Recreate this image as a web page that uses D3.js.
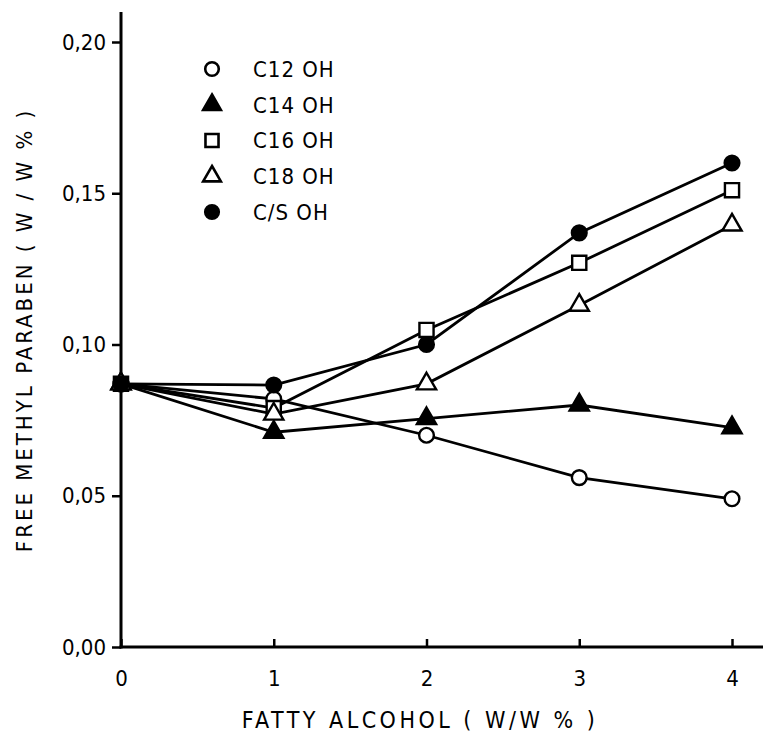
<!DOCTYPE html>
<html>
<head>
<meta charset="utf-8">
<script src="https://cdn.jsdelivr.net/npm/d3@7"></script>
<style>
  body { margin: 0; background: #fff; }
  svg text { font-family: "DejaVu Sans Condensed", "DejaVu Sans", sans-serif; fill: #000; }
</style>
</head>
<body>
<svg id="chart"></svg>
<script>
// data
const alcohol = [0, 1, 2, 3, 4];
const c12 = [0.087, 0.082, 0.070, 0.056, 0.049];
const c14 = [0.087, 0.071, 0.0755, 0.080, 0.0725];
const c16 = [0.087, 0.079, 0.1048, 0.127, 0.151];
const c18 = [0.087, 0.077, 0.087, 0.113, 0.1395];
const cs = [0.087, 0.0866, 0.100, 0.1369, 0.160];
const seriesNames = ['C12 OH', 'C14 OH', 'C16 OH', 'C18 OH', 'C/S OH'];
const xTicks = [0, 1, 2, 3, 4];
const yTicks = [0, 0.05, 0.10, 0.15, 0.20];

const width = 763;
const height = 743;

const svg = d3.select('#chart')
    .attr('width', width)
    .attr('height', height);

const x = d3.scaleLinear().domain([0, 4]).range([121, 732]);
const y = d3.scaleLinear().domain([0, 0.2]).range([647, 42]);

const series = [
    { name: seriesNames[0], values: c12, shape: 'circle', fill: '#fff' },
    { name: seriesNames[1], values: c14, shape: 'triangle', fill: '#000' },
    { name: seriesNames[2], values: c16, shape: 'square', fill: '#fff' },
    { name: seriesNames[3], values: c18, shape: 'triangle', fill: '#fff' },
    { name: seriesNames[4], values: cs, shape: 'circle', fill: '#000' }
];

// axes
const yAxis = d3.axisLeft(y)
    .tickValues(yTicks)
    .tickSize(9)
    .tickPadding(6)
    .tickFormat(d => d3.format('.2f')(d).replace('.', ','));

const xAxis = d3.axisBottom(x)
    .tickValues(xTicks)
    .tickSize(-8)
    .tickPadding(23)
    .tickFormat(d3.format('d'));

const gy = svg.append('g')
    .attr('transform', `translate(${x(0)},0)`)
    .call(yAxis);

const gx = svg.append('g')
    .attr('transform', `translate(0,${y(0)})`)
    .call(xAxis);

[gx, gy].forEach(g => {
    g.select('.domain').remove();
    g.selectAll('.tick line').attr('stroke', '#000').attr('stroke-width', 2.5);
    g.selectAll('.tick text').attr('font-size', 22);
});

// axis lines run past the last ticks as in the original
svg.append('line')
    .attr('x1', x(0)).attr('x2', x(0))
    .attr('y1', 12).attr('y2', y(0) + 1.5)
    .attr('stroke', '#000').attr('stroke-width', 3);
svg.append('line')
    .attr('x1', x(0) - 1.5).attr('x2', width)
    .attr('y1', y(0)).attr('y2', y(0))
    .attr('stroke', '#000').attr('stroke-width', 3);

// axis titles
svg.append('text')
    .attr('x', 420)
    .attr('y', 728)
    .attr('text-anchor', 'middle')
    .attr('font-size', 23)
    .attr('letter-spacing', 3.5)
    .text('FATTY  ALCOHOL ( W/W % )');

svg.append('text')
    .attr('transform', 'translate(32,330) rotate(-90)')
    .attr('text-anchor', 'middle')
    .attr('font-size', 22)
    .attr('letter-spacing', 3)
    .text('FREE  METHYL  PARABEN ( W / W % )');

// lines
const line = d3.line()
    .x((d, i) => x(alcohol[i]))
    .y(d => y(d));

svg.append('g')
    .selectAll('path')
    .data(series)
    .join('path')
    .attr('d', d => line(d.values))
    .attr('fill', 'none')
    .attr('stroke', '#000')
    .attr('stroke-width', 2.8);

const symbolPath = (shape, size) => {
    const type = shape === 'circle' ? d3.symbolCircle
        : shape === 'square' ? d3.symbolSquare : d3.symbolTriangle;
    return d3.symbol().type(type).size(size)();
};

const sizes = { circle: 170, square: 200, triangle: 160 };

// markers
series.forEach(s => {
    svg.append('g')
        .selectAll('path')
        .data(s.values)
        .join('path')
        .attr('transform', (d, i) => `translate(${x(alcohol[i])},${y(d)})`)
        .attr('d', symbolPath(s.shape, sizes[s.shape]))
        .attr('fill', s.fill)
        .attr('stroke', '#000')
        .attr('stroke-width', 2.4);
});

// legend
const legend = svg.append('g');
const rowY = d3.scalePoint().domain(seriesNames).range([69, 212]);
series.forEach(s => {
    const g = legend.append('g').attr('transform', `translate(212,${rowY(s.name)})`);
    g.append('path')
        .attr('d', symbolPath(s.shape, sizes[s.shape] * 0.85))
        .attr('fill', s.fill)
        .attr('stroke', '#000')
        .attr('stroke-width', 2.6);
    g.append('text')
        .attr('x', 41)
        .attr('dy', '0.36em')
        .attr('font-size', 22)
        .attr('letter-spacing', 1)
        .text(s.name);
});
</script>
</body>
</html>
